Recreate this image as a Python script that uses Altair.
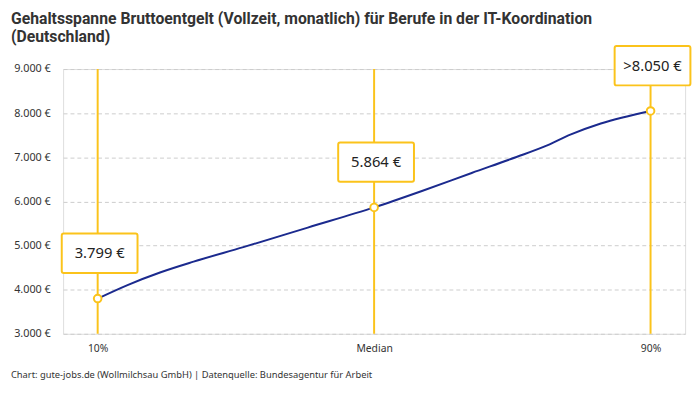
import altair as alt
import pandas as pd

# main data
categories = ["10%", "Median", "90%"]
positions = [0, 1, 2]
values = [3799, 5864, 8050]
labels = ["3.799 €", "5.864 €", ">8.050 €"]

# shape of the drawn salary curve
curve_pos = [0, 0.108, 0.228, 0.347, 0.527, 0.76, 1, 1.173, 1.353, 1.515, 1.615, 1.712, 1.82, 2]
curve_vals = [3799, 4105, 4395, 4635, 4964, 5407, 5864, 6237, 6645, 7007, 7241, 7520, 7766, 8050]

df = pd.DataFrame({"pos": positions, "cat": categories, "val": values, "label": labels})
curve = pd.DataFrame({"pos": curve_pos, "val": curve_vals})

YELLOW = "#FBC31B"
NAVY = "#1B2A8E"
W, H = 632, 269

x_scale = alt.Scale(domain=[-0.125, 2.125], nice=False, zero=False)
x_axis = alt.Axis(title=None, values=positions, labelAngle=0, domain=False, ticks=False,
                  labelExpr="['10%','Median','90%'][datum.value]",
                  labelPadding=10, labelFontSize=10.5, labelColor="#333333",
                  labelFont="Noto Sans", grid=False)
x_enc = alt.X("pos:Q", scale=x_scale, axis=x_axis)

y_scale = alt.Scale(domain=[3000, 9000], nice=False, zero=False)
y_axis = alt.Axis(title=None, values=[3000, 4000, 5000, 6000, 7000, 8000, 9000],
                  labelExpr="replace(format(datum.value, ',.0f'), ',', '.') + ' €'",
                  domain=False, ticks=False, labelPadding=13, labelFontSize=11,
                  labelColor="#333333", labelFont="Noto Sans",
                  grid=True, gridColor="#cccccc", gridDash=[4, 3], gridWidth=1)

base = alt.Chart(df)

line = alt.Chart(curve).mark_line(color=NAVY, strokeWidth=2, interpolate="monotone").encode(
    x=x_enc,
    y=alt.Y("val:Q", scale=y_scale, axis=y_axis),
)

vrules = base.mark_rule(color=YELLOW, strokeWidth=2).encode(
    x=alt.X("pos:Q", scale=x_scale),
    y=alt.value(0),
    y2=alt.value(H),
)

points = base.mark_point(shape="circle", filled=True, fill="white", stroke=YELLOW,
                         strokeWidth=2, size=60, opacity=1).encode(
    x=alt.X("pos:Q", scale=x_scale), y=alt.Y("val:Q", scale=y_scale))

boxes = base.mark_rect(width=77, height=40, fill="white", stroke=YELLOW,
                       strokeWidth=2, cornerRadius=2, yOffset=-46, xOffset=2).encode(
    x=alt.X("pos:Q", scale=x_scale), y=alt.Y("val:Q", scale=y_scale))

texts = base.mark_text(fontSize=15, font="Noto Sans", color="#222222",
                       yOffset=-46, xOffset=2, baseline="middle", align="center").encode(
    x=alt.X("pos:Q", scale=x_scale), y=alt.Y("val:Q", scale=y_scale), text="label:N")

footer = alt.Chart(pd.DataFrame({"t": ["Chart: gute-jobs.de (Wollmilchsau GmbH) | Datenquelle: Bundesagentur für Arbeit"]})).mark_text(
    align="left", baseline="middle", fontSize=9.5, font="Noto Sans", color="#333333"
).encode(x=alt.value(-53), y=alt.value(H + 42), text="t:N")

chart = alt.layer(line, vrules, boxes, texts, points, footer).properties(
    width=W, height=H,
    padding={"left": 3, "top": 0, "right": 0, "bottom": 2},
    title=alt.TitleParams(
        text=["Gehaltsspanne Bruttoentgelt (Vollzeit, monatlich) für Berufe in der IT-Koordination",
              "(Deutschland)"],
        anchor="start", frame="bounds", fontSize=16, font="Roboto", fontWeight="bold",
        color="#333333", lineHeight=18, offset=0),
).configure_view(stroke=None).configure(background="white")

chart.save("out.html", embed_options={"renderer": "svg", "actions": False})
